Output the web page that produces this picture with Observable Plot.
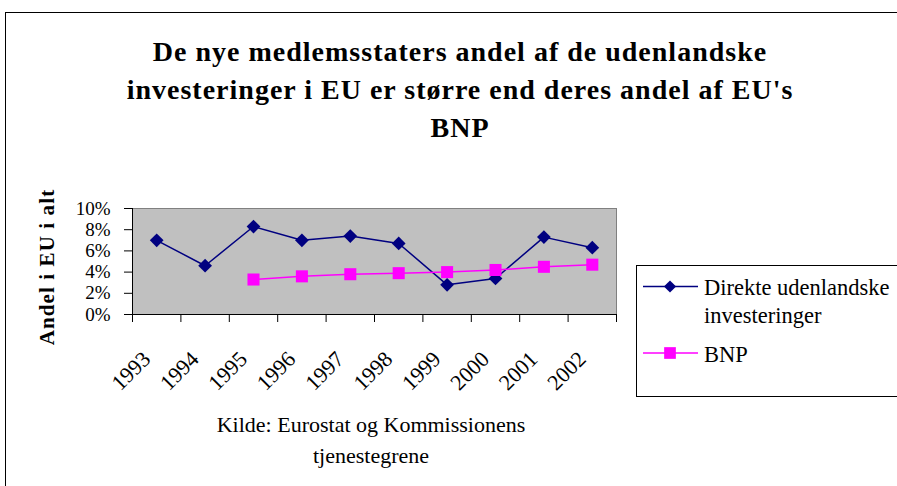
<!DOCTYPE html>
<html>
<head>
<meta charset="utf-8">
<script src="https://cdn.jsdelivr.net/npm/d3@7"></script>
<script src="https://cdn.jsdelivr.net/npm/@observablehq/plot@0.6"></script>
<style>
  html, body { margin: 0; padding: 0; background: #fff; }
  #wrap { position: relative; width: 897px; height: 486px; overflow: hidden; font-family: "Liberation Serif", "Times New Roman", serif; }
  #bg { position: absolute; left: 0; top: 0; }
  #chart { position: absolute; left: 0; top: 180px; }
</style>
</head>
<body>
<div id="wrap">
  <svg id="bg" width="897" height="486"></svg>
  <div id="chart"></div>
</div>
<script>
// ---- data ----
const years = ["1993", "1994", "1995", "1996", "1997", "1998", "1999", "2000", "2001", "2002"];
const fdiShare = [7.0, 4.6, 8.3, 7.0, 7.4, 6.7, 2.8, 3.4, 7.3, 6.3];
const gdpShare = [null, null, 3.3, 3.6, 3.8, 3.9, 4.0, 4.2, 4.5, 4.7];
const yTicks = [0, 2, 4, 6, 8, 10];
const seriesNames = ["Direkte udenlandske investeringer", "BNP"];
const titleLines = ["De nye medlemsstaters andel af de udenlandske", "investeringer i EU er større end deres andel af EU's", "BNP"];
const yTitle = "Andel i EU i alt";
const captionLines = ["Kilde: Eurostat og Kommissionens", "tjenestegrene"];

const navy = "#000080", magenta = "#ff00ff";

const fdiData = years.map((y, i) => ({x: i + 0.5, v: fdiShare[i]}));
const gdpData = years.map((y, i) => ({x: i + 0.5, v: gdpShare[i]})).filter(d => d.v != null);

const chart = Plot.plot({
  width: 640,
  height: 224,
  marginLeft: 132,
  marginRight: 24,
  marginTop: 28,
  marginBottom: 90,
  style: {fontFamily: "Liberation Serif, Times New Roman, serif", fontSize: "19px", color: "black", background: "transparent"},
  x: {domain: [0, years.length], label: null},
  y: {domain: [0, 10], label: null},
  marks: [
    Plot.frame({fill: "#c0c0c0", stroke: "#808080"}),
    Plot.ruleX([0], {stroke: "black"}),
    Plot.ruleY([0], {stroke: "black"}),
    Plot.axisY({ticks: yTicks, tickFormat: d => d + "%", tickSize: 8, tickPadding: 14, label: null, fontSize: 19, letterSpacing: 0.8}),
    Plot.axisX({ticks: d3.range(0, years.length + 1), tickSize: 8, tickFormat: () => "", label: null}),
    Plot.text(years, {x: (d, i) => i + 0.5, text: d => d, frameAnchor: "bottom", dy: 41, dx: -10, rotate: -45, textAnchor: "end", lineAnchor: "middle", fontSize: 22}),
    Plot.line(fdiData, {x: "x", y: "v", stroke: navy, strokeWidth: 1.5}),
    Plot.dot(fdiData, {x: "x", y: "v", symbol: "diamond2", r: 6.2, fill: navy, stroke: "none"}),
    Plot.line(gdpData, {x: "x", y: "v", stroke: magenta, strokeWidth: 1.5}),
    Plot.dot(gdpData, {x: "x", y: "v", symbol: "square", r: 6.8, fill: magenta, stroke: "none"})
  ]
});
document.getElementById("chart").appendChild(chart);

// ---- background: border, title, y-title, legend, caption ----
const bg = d3.select("#bg");
bg.append("rect").attr("x", 5.5).attr("y", 12.5).attr("width", 900).attr("height", 500)
  .attr("fill", "none").attr("stroke", "black").attr("stroke-width", 1);

const serif = "Liberation Serif, Times New Roman, serif";
bg.append("g").selectAll("text").data(titleLines).join("text")
  .attr("x", 460).attr("y", (d, i) => 60.5 + i * 38)
  .attr("text-anchor", "middle")
  .attr("font-family", serif).attr("font-weight", "bold").attr("font-size", 28)
  .attr("letter-spacing", 1)
  .text(d => d);

bg.append("text")
  .attr("transform", "translate(54,267) rotate(-90)")
  .attr("text-anchor", "middle")
  .attr("font-family", serif).attr("font-weight", "bold").attr("font-size", 21)
  .attr("letter-spacing", 1.1)
  .text(yTitle);

// legend
const lg = bg.append("g");
lg.append("rect").attr("x", 636.5).attr("y", 265.5).attr("width", 300).attr("height", 131)
  .attr("fill", "white").attr("stroke", "black");
lg.append("line").attr("x1", 643).attr("x2", 698).attr("y1", 286.5).attr("y2", 286.5).attr("stroke", navy).attr("stroke-width", 1.5);
lg.append("path").attr("d", d3.symbol(d3.symbolDiamond2, Math.PI * 30)()).attr("transform", "translate(670,286.5)").attr("fill", navy);
lg.append("line").attr("x1", 643).attr("x2", 698).attr("y1", 353).attr("y2", 353).attr("stroke", magenta).attr("stroke-width", 1.5);
lg.append("path").attr("d", d3.symbol(d3.symbolSquare, Math.PI * 6.6 * 6.6)()).attr("transform", "translate(670,353)").attr("fill", magenta);
const legendText = [["Direkte udenlandske", 295], ["investeringer", 323], [seriesNames[1], 361.5]];
lg.selectAll("text.lt").data(legendText).join("text")
  .attr("x", 704).attr("y", d => d[1])
  .attr("font-family", serif).attr("font-size", 22.5)
  .text(d => d[0]);

bg.append("g").selectAll("text").data(captionLines).join("text")
  .attr("x", 371).attr("y", (d, i) => 431.5 + i * 31.8)
  .attr("text-anchor", "middle")
  .attr("font-family", serif).attr("font-size", 22)
  .text(d => d);
</script>
</body>
</html>
